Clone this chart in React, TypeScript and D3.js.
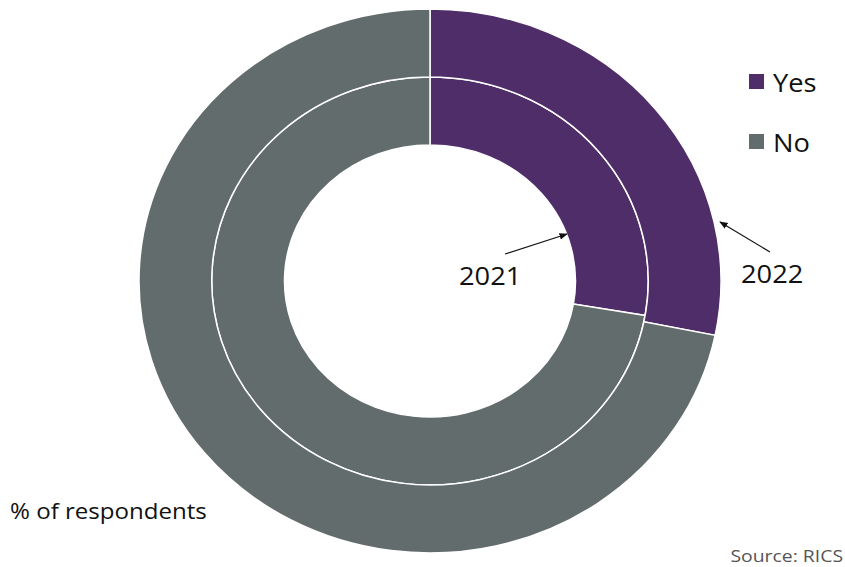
import React from "react";
import * as d3 from "d3";

const years = ["2021", "2022"];
const categories = ["Yes", "No"];
const yes = [27.7, 28.2];
const no = [72.3, 71.8];
const colors = ["#4f2d69", "#636c6c"];

const SX = 1.07;

function T(props: { x: number; y: number; size: number; fill?: string; anchor?: string; sx?: number; children: React.ReactNode }) {
  return (
    <text
      transform={`translate(${props.x},${props.y}) scale(${props.sx || SX},1)`}
      fontSize={props.size}
      fill={props.fill || "#111"}
      textAnchor={props.anchor || "start"}
    >
      {props.children}
    </text>
  );
}

export default function App() {
  const W = 845, H = 567;
  const cx = 430, cy = 281;
  const R = 291;
  const sy = 272 / 291;
  const pie = d3.pie<number>().sort(null).value((d) => d);
  const rings = [
    { inner: R * 0.5, outer: R * 0.75, vals: [yes[0], no[0]] },
    { inner: R * 0.75, outer: R, vals: [yes[1], no[1]] },
  ];
  const font = "'Open Sans', 'Noto Sans', sans-serif";
  return (
    <svg width={W} height={H} style={{ position: "absolute", left: 0, top: 0, background: "#fff" }} fontFamily={font}>
      <defs>
        <marker id="ah" viewBox="0 0 10 10" refX="9" refY="5" markerWidth="7" markerHeight="7" orient="auto">
          <path d="M0,1 L10,5 L0,9 z" fill="#111" />
        </marker>
      </defs>
      <g transform={`translate(${cx},${cy}) scale(1,${sy})`}>
        {rings.map((ring, ri) => {
          const arc = d3.arc<d3.PieArcDatum<number>>().innerRadius(ring.inner).outerRadius(ring.outer);
          return pie(ring.vals).map((a, i) => (
            <path key={`${ri}-${i}`} d={arc(a) || ""} fill={colors[i]} stroke="#fff" strokeWidth={1.5} />
          ));
        })}
      </g>
      <line x1={505} y1={254} x2={567} y2={234} stroke="#111" strokeWidth={1.2} markerEnd="url(#ah)" />
      <line x1={770} y1={252} x2={720} y2={222} stroke="#111" strokeWidth={1.2} markerEnd="url(#ah)" />
      <T x={459} y={285} size={25.5}>{years[0]}</T>
      <T x={741} y={282.5} size={25.5}>{years[1]}</T>
      {categories.map((c, i) => (
        <g key={c}>
          <rect x={749} y={74 + i * 60} width={15} height={15} fill={colors[i]} />
          <T x={773} y={91.5 + i * 60} size={25.5}>{c}</T>
        </g>
      ))}
      <T x={10} y={519} size={22.5}>% of respondents</T>
      <T x={843} y={561.5} size={17} sx={1.14} fill="#555" anchor="end">Source: RICS</T>
    </svg>
  );
}
